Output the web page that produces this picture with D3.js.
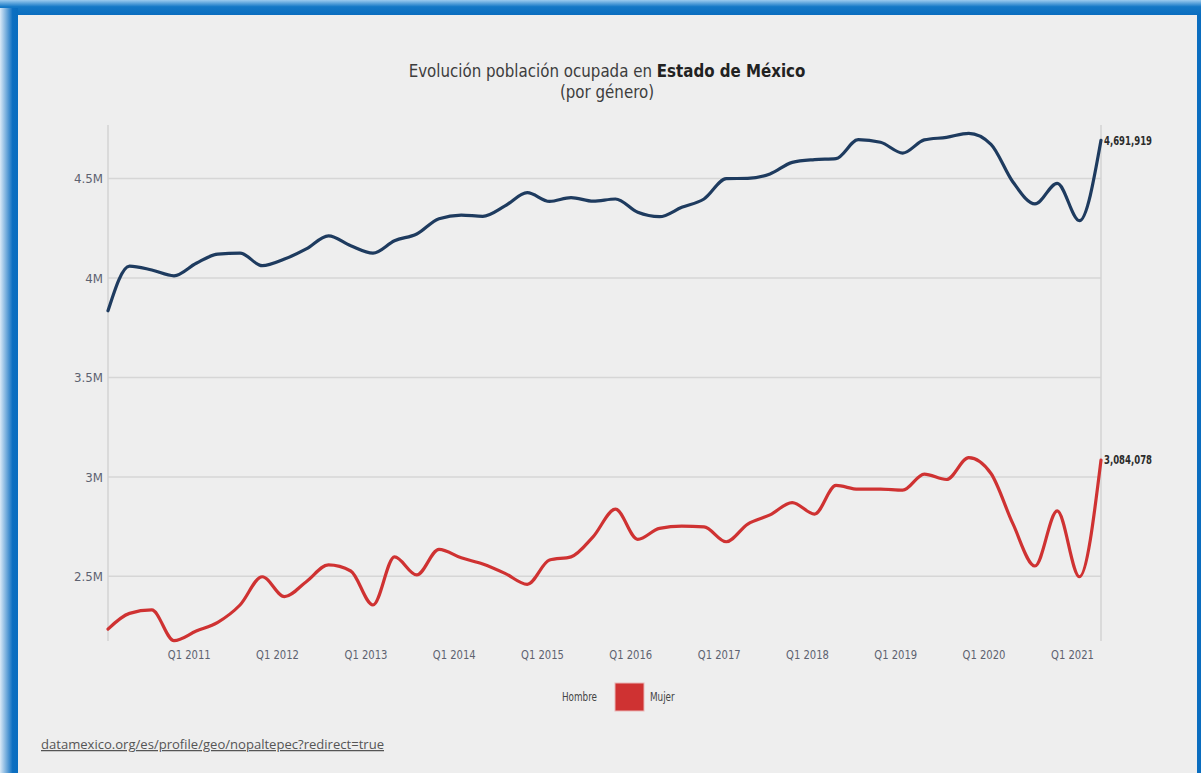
<!DOCTYPE html>
<html><head><meta charset="utf-8">
<script src="https://cdn.jsdelivr.net/npm/d3@7"></script>
<style>html,body{margin:0;padding:0;overflow:hidden;background:#eeeeee}</style>
</head><body><svg id="c" width="1201" height="773"></svg>
<script>
// ---------- data ----------
const periods = ["2010Q1","2010Q2","2010Q3","2010Q4","2011Q1","2011Q2","2011Q3","2011Q4",
  "2012Q1","2012Q2","2012Q3","2012Q4","2013Q1","2013Q2","2013Q3","2013Q4",
  "2014Q1","2014Q2","2014Q3","2014Q4","2015Q1","2015Q2","2015Q3","2015Q4",
  "2016Q1","2016Q2","2016Q3","2016Q4","2017Q1","2017Q2","2017Q3","2017Q4",
  "2018Q1","2018Q2","2018Q3","2018Q4","2019Q1","2019Q2","2019Q3","2019Q4",
  "2020Q1","2020Q2","2020Q3","2020Q4","2021Q1","2021Q2"];
const hombre = [3835000,4060000,4040000,4011000,4074000,4120000,4125000,4062000,
  4095000,4146000,4212000,4162000,4125000,4187000,4221000,4298000,
  4316000,4310000,4362000,4429000,4385000,4404000,4386000,4397000,
  4330000,4308000,4355000,4397000,4499000,4501000,4523000,4581000,
  4595000,4600000,4695000,4682000,4628000,4694000,4707000,4727000,
  4672000,4484000,4372000,4476000,4288000,4691919];
const mujer = [2235000,2314000,2331000,2177000,2225000,2269000,2356000,2498000,
  2398000,2473000,2558000,2527000,2356000,2598000,2507000,2636000,
  2593000,2562000,2515000,2460000,2582000,2598000,2700000,2838000,
  2686000,2741000,2752000,2749000,2674000,2763000,2809000,2871000,
  2813000,2957000,2938000,2938000,2933000,3014000,2987000,3097000,
  3017000,2766000,2552000,2829000,2498000,3084078];
const seriesNames = ["Hombre","Mujer"];
const yTicks = [2500000,3000000,3500000,4000000,4500000];
const xTickYears = [2011,2012,2013,2014,2015,2016,2017,2018,2019,2020,2021];
const yDomain = [2175000,4769000];

// ---------- style ----------
const colors = {Hombre:"#1e3b5f", Mujer:"#cf3232"};
const cond = "'DejaVu Sans Condensed','DejaVu Sans',sans-serif";

const svg = d3.select("#c");
const W = 1201, H = 773;

// condense a group of texts horizontally so that a reference text reaches a target width
function condense(group, ref, target) {
  const f = target / ref.node().getComputedTextLength();
  group.each(function() {
    const w = this.getComputedTextLength();
    d3.select(this).attr("textLength", w * f).attr("lengthAdjust", "spacingAndGlyphs");
  });
}

// frame
const defs = svg.append("defs");
const gTop = defs.append("linearGradient").attr("id","gt").attr("x1",0).attr("y1",0).attr("x2",0).attr("y2",1);
gTop.append("stop").attr("offset","0%").attr("stop-color","#9ccbef");
gTop.append("stop").attr("offset","45%").attr("stop-color","#1478c6");
gTop.append("stop").attr("offset","100%").attr("stop-color","#0a6dbf");
const gLeft = defs.append("linearGradient").attr("id","gl").attr("x1",0).attr("y1",0).attr("x2",1).attr("y2",0);
gLeft.append("stop").attr("offset","0%").attr("stop-color","#d9e9f7");
gLeft.append("stop").attr("offset","70%").attr("stop-color","#0d6fc1");
gLeft.append("stop").attr("offset","100%").attr("stop-color","#0a6dbf");

svg.append("rect").attr("x",0).attr("y",0).attr("width",W).attr("height",H).attr("fill","#0a6dbf");
svg.append("rect").attr("x",0).attr("y",0).attr("width",W).attr("height",15).attr("fill","url(#gt)");
svg.append("rect").attr("x",0).attr("y",8).attr("width",18).attr("height",H-8).attr("fill","url(#gl)");
svg.append("rect").attr("x",18).attr("y",15).attr("width",1197-18).attr("height",H-15).attr("fill","#eeeeee");

// scales
const toDate = p => new Date(+p.slice(0,4), (+p.slice(5,6)-1)*3 + 1, 1);
const dates = periods.map(toDate);
const plotL = 108, plotR = 1101, plotT = 125, plotB = 641;
const x = d3.scaleTime().domain([dates[0], dates[dates.length-1]]).range([plotL, plotR]);
const y = d3.scaleLinear().domain(yDomain).range([plotB, plotT]);

// grid
const grid = svg.append("g");
grid.selectAll("line").data(yTicks).join("line")
  .attr("x1",plotL).attr("x2",plotR).attr("y1",d=>y(d)).attr("y2",d=>y(d))
  .attr("stroke","#d6d6d6").attr("stroke-width",1.5);
svg.append("line").attr("x1",plotL).attr("x2",plotL).attr("y1",plotT).attr("y2",plotB)
  .attr("stroke","#d3d3d3").attr("stroke-width",1.5);
svg.append("line").attr("x1",plotR).attr("x2",plotR).attr("y1",plotT).attr("y2",plotB)
  .attr("stroke","#d3d3d3").attr("stroke-width",1.5);

// y axis labels
const fmtM = d => d3.format("~g")(d/1e6) + "M";
const yAxis = d3.axisLeft(y).tickValues(yTicks).tickFormat(fmtM).tickSize(0).tickPadding(5);
const ya = svg.append("g").attr("transform",`translate(${plotL},0)`).call(yAxis);
ya.select(".domain").remove();
const yTxt = ya.selectAll("text").attr("font-family",cond).attr("font-size",13).attr("fill","#5d6270");
condense(yTxt, yTxt.filter(d => d === 4500000), 29);

// x axis labels
const xTicks = xTickYears.map(yr => new Date(yr,0,1));
const xAxis = d3.axisBottom(x).tickValues(xTicks).tickFormat(d => "Q1 " + d.getFullYear()).tickSize(0).tickPadding(9);
const xa = svg.append("g").attr("transform",`translate(0,${plotB})`).call(xAxis);
xa.select(".domain").remove();
const xTxt = xa.selectAll("text").attr("font-family",cond).attr("font-size",13).attr("fill","#5d6270");
condense(xTxt, xTxt.filter((d,i) => i === 0), 43);

// lines
const line = d3.line().x((d,i)=>x(dates[i])).y(d=>y(d)).curve(d3.curveMonotoneX);
const series = [{name:"Hombre", values:hombre},{name:"Mujer", values:mujer}];
svg.append("g").selectAll("path").data(series).join("path")
  .attr("d", d=>line(d.values)).attr("fill","none")
  .attr("stroke", d=>colors[d.name]).attr("stroke-width",3.2)
  .attr("stroke-linejoin","round").attr("stroke-linecap","round");

// end labels
const endTxt = svg.append("g").selectAll("text").data(series).join("text")
  .attr("x", x(dates[dates.length-1]) + 3)
  .attr("y", d => y(d.values[d.values.length-1]))
  .attr("dy","0.35em")
  .attr("font-family",cond).attr("font-weight","bold").attr("font-size",12).attr("fill","#2b2b2b")
  .text(d => d3.format(",")(d.values[d.values.length-1]));
condense(endTxt, endTxt.filter((d,i)=>i===0), 48);

// title (condensed by horizontal scale around its centre)
const tg = svg.append("g").attr("transform","translate(607,0)");
const title = tg.append("text").attr("x",0).attr("y",77).attr("text-anchor","middle")
  .attr("font-family",cond).attr("font-size",18).attr("fill","#3d3d3d");
title.append("tspan").text("Evolución población ocupada en ");
title.append("tspan").attr("font-weight","bold").attr("fill","#222").text("Estado de México");
const sub = tg.append("text").attr("x",0).attr("y",98).attr("text-anchor","middle")
  .attr("font-family",cond).attr("font-size",18).attr("fill","#3d3d3d").text("(por género)");
const tf = 397 / title.node().getComputedTextLength();
tg.attr("transform",`translate(607,0) scale(${tf},1)`);

// legend
const lg = svg.append("g");
const lgH = lg.append("text").attr("x",597).attr("y",697).attr("dy","0.35em").attr("text-anchor","end")
  .attr("font-family",cond).attr("font-size",12).attr("fill","#444").text(seriesNames[0]);
lg.append("rect").attr("x",615).attr("y",683).attr("width",29).attr("height",28)
  .attr("fill",colors.Mujer).attr("stroke","#e9b5b5").attr("stroke-width",1);
const lgM = lg.append("text").attr("x",650).attr("y",697).attr("dy","0.35em")
  .attr("font-family",cond).attr("font-size",12).attr("fill","#444").text(seriesNames[1]);
condense(lg.selectAll("text"), lgH, 35);

// source url
const url = svg.append("text").attr("x",41).attr("y",749)
  .attr("font-family","'Open Sans','Noto Sans',sans-serif").attr("font-size",12.5).attr("fill","#555")
  .attr("text-decoration","underline")
  .text("datamexico.org/es/profile/geo/nopaltepec?redirect=true");
condense(url, url, 343);
</script></body></html>
